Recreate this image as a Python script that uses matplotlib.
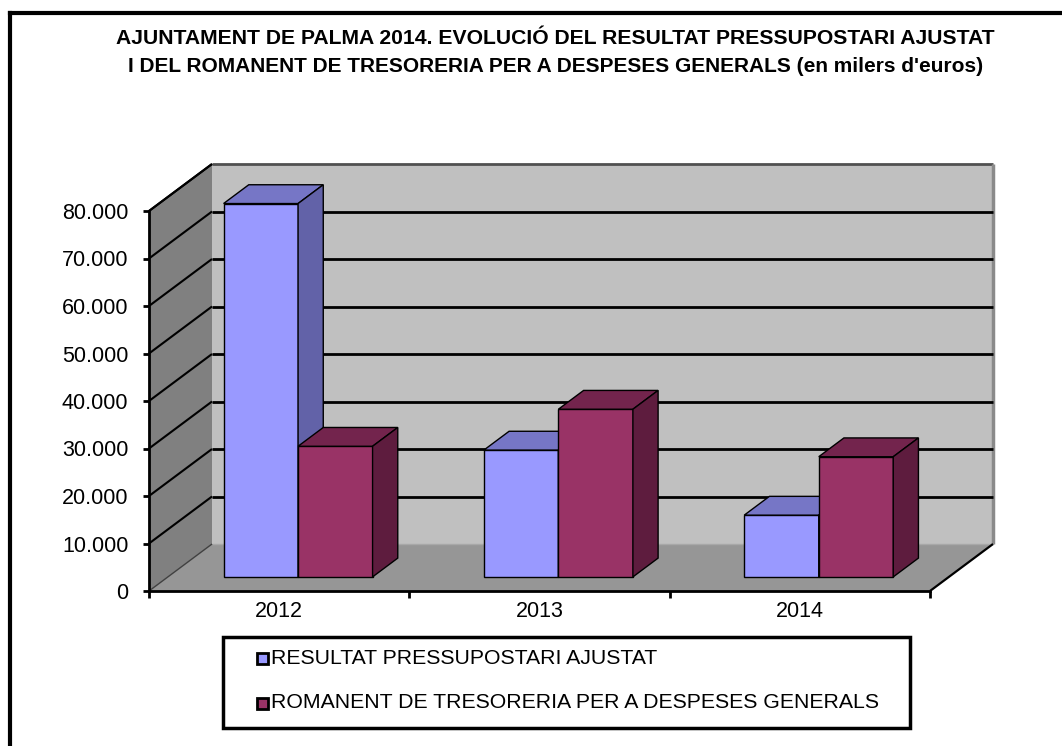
import matplotlib
matplotlib.use('Agg')
import matplotlib.pyplot as plt
from matplotlib.patches import Polygon, Rectangle
from matplotlib.lines import Line2D
from matplotlib import font_manager as fm

# ---------------- data ----------------
years = ['2012', '2013', '2014']
resultat = [78600, 26700, 13000]
romanent = [27500, 35300, 25300]
series_names = ['RESULTAT PRESSUPOSTARI AJUSTAT',
                'ROMANENT DE TRESORERIA PER A DESPESES GENERALS']
yticks = list(range(0, 80001, 10000))
ytick_labels = [f"{v:,}".replace(',', '.') for v in yticks]
title1 = 'AJUNTAMENT DE PALMA 2014. EVOLUCIÓ DEL RESULTAT PRESSUPOSTARI AJUSTAT'
title2 = "I DEL ROMANENT DE TRESORERIA PER A DESPESES GENERALS (en milers d'euros)"

# ---------------- style ----------------
installed = {f.name for f in fm.fontManager.ttflist}
narrow = 'Liberation Sans Narrow' in installed
fams = (['Liberation Sans Narrow'] if narrow else []) + ['Liberation Sans', 'DejaVu Sans']
plt.rcParams['font.family'] = fams
W, H = 1062, 746
fig = plt.figure(figsize=(W / 100, H / 100), dpi=100)
fig.patch.set_facecolor('white')


def fx(px):
    return px / W


def fy(py):
    return 1 - py / H


ymax = 80000
ax = fig.add_axes([fx(149), fy(591), 781 / W, 380 / H])
ax.set_xlim(0, 3)
ax.set_ylim(0, ymax)
ax.patch.set_visible(False)

# oblique depth offsets in data units (one full depth of floor)
DX = 63 / (781 / 3)
DY = 47 / (380 / ymax)


def P(x, v, d):
    return (x + d * DX, v + d * DY)


def poly(pts, fc, ec='none', lw=0, z=1):
    ax.add_patch(Polygon(pts, closed=True, facecolor=fc, edgecolor=ec,
                         linewidth=lw, zorder=z, clip_on=False))


# walls and floor
poly([P(0, 0, 1), P(3, 0, 1), P(3, ymax, 1), P(0, ymax, 1)], '#C0C0C0', z=0.5)
poly([P(0, 0, 0), P(0, 0, 1), P(0, ymax, 1), P(0, ymax, 0)], '#808080', z=0.5)
poly([P(0, 0, 0), P(3, 0, 0), P(3, 0, 1), P(0, 0, 1)], '#969696', z=0.5)


def line(a, b, c='black', lw=1.5, z=1):
    ax.add_line(Line2D([a[0], b[0]], [a[1], b[1]], color=c, lw=lw,
                       zorder=z, clip_on=False, solid_capstyle='butt'))


# back wall edges
line(P(0, ymax, 1), P(3, ymax, 1), '#505050', 2)
line(P(3, 0, 1), P(3, ymax, 1), '#8A8A8A', 2.5)
line(P(0, 0, 1), P(3, 0, 1), '#A8A8A8', 1)
# gridlines on back wall and side wall
for v in yticks[1:-1]:
    line(P(0, v, 1), P(3, v, 1), 'black', 2)
for v in yticks[1:]:
    line(P(0, v, 0), P(0, v, 1), 'black', 1.5)
line(P(0, 0, 0), P(0, 0, 1), '#404040', 1)
line(P(0, ymax, 0), P(0, ymax, 1), 'black', 1.5)
line(P(3, 0, 0), P(3, 0, 1), 'black', 1.6)

# bars
w = 74.5 / (781 / 3)
dfront, ddepth = 0.3, 0.4
dback = dfront + ddepth
styles = [
    (resultat, '#9999FF', '#7676C6', '#6262A8', -1),
    (romanent, '#993366', '#73244D', '#5E1C3E', 0),
]
for si, (vals, cf, ct, cs, off) in enumerate(styles):
    z = 3 + si
    x0s = [i + 0.5 + off * w for i in range(len(years))]
    ax.bar([x + dfront * DX for x in x0s], vals, bottom=dfront * DY, width=w,
           align='edge', color=cf, edgecolor='black', linewidth=1.0,
           zorder=z, clip_on=False)
    for x0, v in zip(x0s, vals):
        x1 = x0 + w
        poly([P(x0, v, dfront), P(x1, v, dfront), P(x1, v, dback), P(x0, v, dback)],
             ct, 'black', 1.0, z + 0.1)
        poly([P(x1, 0, dfront), P(x1, 0, dback), P(x1, v, dback), P(x1, v, dfront)],
             cs, 'black', 1.0, z + 0.2)

# axes, ticks
tick_fs = 17 if narrow else 15.5
for s in ['top', 'right']:
    ax.spines[s].set_visible(False)
for s in ['left', 'bottom']:
    ax.spines[s].set_color('black')
    ax.spines[s].set_linewidth(2)
ax.set_yticks(yticks)
ax.set_yticklabels(ytick_labels)
ax.tick_params(axis='y', length=4.3, width=2, pad=10.5, labelsize=tick_fs, colors='black')
ax.set_xticks([0, 1, 2, 3])
ax.set_xticklabels([])
ax.set_xticks([0.5, 1.5, 2.5], minor=True)
ax.set_xticklabels(years, minor=True)
ax.tick_params(axis='x', which='major', length=5, width=2)
ax.tick_params(axis='x', which='minor', length=0, pad=7, labelsize=tick_fs)

# outer frame
fig.add_artist(Line2D([fx(10), fx(W)], [fy(13), fy(13)], color='black', lw=3,
                      transform=fig.transFigure))
fig.add_artist(Line2D([fx(10), fx(10)], [fy(13), fy(H)], color='black', lw=3,
                      transform=fig.transFigure))

# title
t1 = fig.text(fx(555), fy(38), title1, ha='center', va='center',
              fontsize=16, fontweight='bold')
t2 = fig.text(fx(555.5), fy(66), title2, ha='center', va='center',
              fontsize=16, fontweight='bold')

# legend (manual box)
fig.add_artist(Rectangle((fx(223), fy(728)), (910 - 223) / W, (728 - 637) / H,
                         transform=fig.transFigure, fill=False,
                         edgecolor='black', linewidth=2.5))
leg_colors = ['#9999FF', '#993366']
leg_y = [658, 703]
leg_texts = []
for name, c, yy in zip(series_names, leg_colors, leg_y):
    fig.add_artist(Rectangle((fx(257), fy(yy + 5.5)), 11 / W, 11 / H,
                             transform=fig.transFigure, facecolor=c,
                             edgecolor='black', linewidth=2))
    leg_texts.append(fig.text(fx(271), fy(yy), name, ha='left', va='center',
                              fontsize=17))

# fit text widths to the reference layout (a little wider allowed for non-narrow fonts)
r = fig.canvas.get_renderer()
tw1 = (973 - 137) if narrow else 880
tw2 = (963 - 148) if narrow else 858
lw2 = (698 - 272) if narrow else 610
for t, target in [(t1, tw1), (t2, tw2), (leg_texts[1], lw2)]:
    bw = t.get_window_extent(renderer=r).width
    t.set_fontsize(t.get_fontsize() * target / bw)
leg_texts[0].set_fontsize(leg_texts[1].get_fontsize())

fig.savefig('out.png', dpi=100)
